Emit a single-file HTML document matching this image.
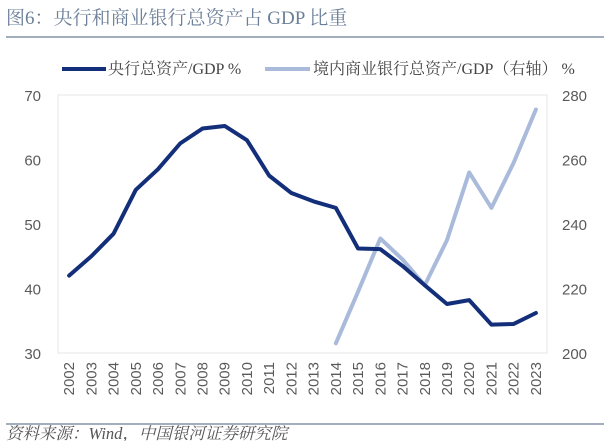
<!DOCTYPE html>
<html><head><meta charset="utf-8"><style>
body{margin:0;background:#fff;width:604px;height:441px;overflow:hidden;font-family:"Liberation Serif","Noto Serif CJK SC",serif}
</style></head><body>
<svg width="604" height="441" id="c">
<text x="6" y="24" font-size="19" fill="#6b7f98" font-family="Liberation Serif, Noto Serif CJK SC, serif">图6：央行和商业银行总资产占 GDP 比重</text>
<line x1="6" y1="37" x2="604" y2="37" stroke="#8494a8" stroke-width="1.5"/>
<g font-size="16" fill="#444" font-family="Liberation Serif, Noto Serif CJK SC, serif">
<line x1="62" y1="69" x2="106" y2="69" stroke="#142f7a" stroke-width="4"/>
<text x="108" y="74">央行总资产/GDP %</text>
<line x1="265" y1="69" x2="310" y2="69" stroke="#a9badb" stroke-width="4"/>
<text x="313" y="74">境内商业银行总资产/GDP（右轴） %</text>
</g>
<rect x="58" y="95" width="489" height="258" fill="none" stroke="#e4e4e4"/>
<g id="ticks"></g>
<g id="marks"></g>
<line x1="6" y1="424" x2="604" y2="424" stroke="#8494a8" stroke-width="1.5"/>
<text x="6" y="439" font-size="16.5" fill="#555" font-style="italic" font-family="Liberation Serif, Noto Serif CJK SC, serif">资料来源：Wind，中国银河证券研究院</text>
</svg>
<script>
const years=["2002","2003","2004","2005","2006","2007","2008","2009","2010","2011","2012","2013","2014","2015","2016","2017","2018","2019","2020","2021","2022","2023"];
const centralBank=[42,45,48.5,55.3,58.5,62.5,64.8,65.2,63,57.5,54.8,53.5,52.5,46.2,46.1,43.5,40.5,37.6,38.2,34.4,34.5,36.2];
const commercial=[null,null,null,null,null,null,null,null,null,null,null,null,203,219,235.5,229,221,235,256,245,259,275.5];
const leftTicks=[30,40,50,60,70];
const rightTicks=[200,220,240,260,280];
const NS="http://www.w3.org/2000/svg";
const L=58,R=547,T=95,B=353;
const xs=i=>L+(R-L)/years.length*(i+0.5);
const yl=v=>B-(v-30)/40*(B-T);
const yr=v=>B-(v-200)/80*(B-T);
const tk=document.getElementById('ticks'),mk=document.getElementById('marks');
function txt(x,y,s,anchor,name,rot){const t=document.createElementNS(NS,'text');t.setAttribute('x',x);t.setAttribute('y',y);t.setAttribute('font-size','15');t.setAttribute('fill','#5a5a5a');t.setAttribute('font-family','Liberation Sans, sans-serif');t.setAttribute('text-anchor',anchor);if(rot)t.setAttribute('transform',rot);t.textContent=s;


tk.appendChild(t);}
leftTicks.forEach(v=>txt(41,yl(v)+6,v,'end','left-tick-'+v));
rightTicks.forEach(v=>txt(562,yr(v)+6,v,'start','right-tick-'+v));
years.forEach((y,i)=>{const x=xs(i)+5,yy=362;txt(x,yy,y,'end','x-tick-'+y,'rotate(-90 '+x+' '+yy+')');});
function line(vals,fy,color,name){let d='';vals.forEach((v,i)=>{if(v==null)return;d+=(d?'L':'M')+xs(i)+','+fy(v);});const p=document.createElementNS(NS,'path');p.setAttribute('d',d);p.setAttribute('fill','none');p.setAttribute('stroke',color);p.setAttribute('stroke-width','4');p.setAttribute('stroke-linejoin','round');p.setAttribute('stroke-linecap','round');


mk.appendChild(p);}
line(commercial,yr,'#a9badb','commercial-bank-line');
line(centralBank,yl,'#142f7a','central-bank-line');
</script>
</body></html>
